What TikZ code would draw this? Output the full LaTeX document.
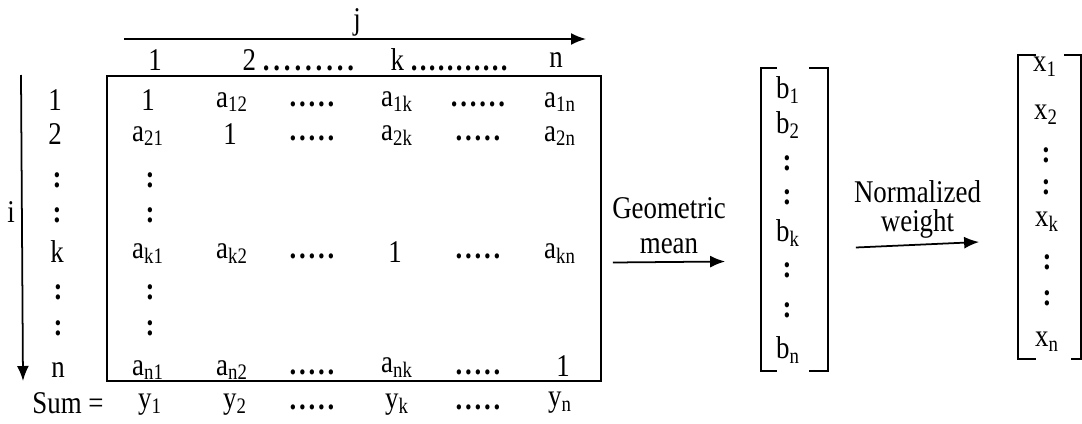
\documentclass[tikz,border=0pt]{standalone}
\usepackage{fontspec}
\setmainfont[FakeStretch=0.85]{Liberation Serif}
\usepackage{tikz}
\usetikzlibrary{
  arrows.meta,
  positioning,
  calc
}
\tikzset{>={Latex[length=3mm, width=2.4mm]}}
\tikzset{font=\fontsize{18}{20}\selectfont}
\tikzset{cell/.style={inner sep=1pt}}
\newcommand{\ent}[2]{#1\textsubscript{#2}}
\newcommand{\vd}{\textbf{:}}
% a run of spaced dots: count, gap
\newcommand{\dts}[2]{\textbf{.\foreach \k in {2,...,#1}{\kern#2.}}}

\begin{document}
\begin{tikzpicture}[x=0.02cm, y=-0.02cm, line width=1pt]
  \useasboundingbox (0,0) rectangle (1082,423); %
  % column heads
  \node[cell] (j) at (357,22) {j}; %
  \coordinate (jl) at (124,39); \coordinate (jr) at (586,39); %
  \draw[->] (jl) -- (jr); %
  \node[cell] (h1) at (155,60) {1}; %
  \node[cell, anchor=west] (h2) at (240,60) {2 \dts{9}{2.2pt}}; %
  \node[cell, anchor=west] (hk) at (388,60) {k \dts{11}{1.3pt}}; %
  \node[cell] (hn) at (556,60) {n}; %
  % row heads and i
  \node[cell] (i) at (11,212) {i}; %
  \coordinate (it) at (21,75); \coordinate (ib) at (23,381); %
  \draw[->] (it) -- (ib); %
  \node[cell] (r1) at (55,100) {1}; %
  \node[cell] (r2) at (55,134) {2}; %
  \node[cell] (r3) at (57,180) {\vd}; %
  \node[cell] (r4) at (57,215) {\vd}; %
  \node[cell] (rk) at (57,252) {k}; %
  \node[cell] (r6) at (58,292) {\vd}; %
  \node[cell] (r7) at (58,328) {\vd}; %
  \node[cell] (rn) at (58,370) {n}; %
  \node[cell] (sum) at (68,403) {Sum =}; %
  % matrix
  \node[draw, minimum width=9.88cm, minimum height=6.1cm] (mat) at (354,228.5) {}; %
  \node[cell] (a11) at (148,100) {1}; %
  \node[cell] (a12) at (232,102) {\ent{a}{12}}; %
  \node[cell] (d11) at (312,104) {\dts{5}{1.6pt}}; %
  \node[cell] (a1k) at (397,102) {\ent{a}{1k}}; %
  \node[cell] (d12) at (478,104) {\dts{6}{1.6pt}}; %
  \node[cell] (a1n) at (560,102) {\ent{a}{1n}}; %
  \node[cell] (a21) at (148,136) {\ent{a}{21}}; %
  \node[cell] (a22) at (230,134) {1}; %
  \node[cell] (d21) at (312,138) {\dts{5}{1.6pt}}; %
  \node[cell] (a2k) at (397,136) {\ent{a}{2k}}; %
  \node[cell] (d22) at (478,138) {\dts{5}{1.6pt}}; %
  \node[cell] (a2n) at (560,136) {\ent{a}{2n}}; %
  \node[cell] (v31) at (150,180) {\vd}; %
  \node[cell] (v41) at (150,215) {\vd}; %
  \node[cell] (ak1) at (148,254) {\ent{a}{k1}}; %
  \node[cell] (ak2) at (232,254) {\ent{a}{k2}}; %
  \node[cell] (dk1) at (312,256) {\dts{5}{1.6pt}}; %
  \node[cell] (akk) at (395,252) {1}; %
  \node[cell] (dk2) at (478,256) {\dts{5}{1.6pt}}; %
  \node[cell] (akn) at (560,254) {\ent{a}{kn}}; %
  \node[cell] (v61) at (150,292) {\vd}; %
  \node[cell] (v71) at (150,328) {\vd}; %
  \node[cell] (an1) at (148,370) {\ent{a}{n1}}; %
  \node[cell] (an2) at (232,370) {\ent{a}{n2}}; %
  \node[cell] (dn1) at (312,372) {\dts{5}{1.6pt}}; %
  \node[cell] (ank) at (397,368) {\ent{a}{nk}}; %
  \node[cell] (dn2) at (478,372) {\dts{5}{1.6pt}}; %
  \node[cell] (ann) at (563,366) {1}; %
  % column sums
  \node[cell] (y1) at (150,405) {\ent{y}{1}}; %
  \node[cell] (y2) at (235,405) {\ent{y}{2}}; %
  \node[cell] (ds1) at (312,407) {\dts{5}{1.6pt}}; %
  \node[cell] (yk) at (397,405) {\ent{y}{k}}; %
  \node[cell] (ds2) at (478,407) {\dts{5}{1.6pt}}; %
  \node[cell] (yn) at (560,403) {\ent{y}{n}}; %
  % geometric mean vector
  \node[minimum width=1.3cm, minimum height=6.02cm, inner sep=0pt] (bvec) at (794.5,219.5) {}; %
  \draw ($(bvec.north west)+(16,0)$) -- (bvec.north west) -- (bvec.south west) -- ++(16,0); %
  \draw ($(bvec.north east)+(-19,0)$) -- (bvec.north east) -- (bvec.south east) -- ++(-19,0); %
  \node[cell] (b1) at (788,90) {\ent{b}{1}}; %
  \node[cell] (b2) at (788,125) {\ent{b}{2}}; %
  \node[cell] (b3) at (787,163) {\vd}; %
  \node[cell] (b4) at (787,197) {\vd}; %
  \node[cell] (bk) at (788,233) {\ent{b}{k}}; %
  \node[cell] (b6) at (787,270) {\vd}; %
  \node[cell] (b7) at (787,310) {\vd}; %
  \node[cell] (bn) at (788,350) {\ent{b}{n}}; %
  % normalized weight vector
  \node[minimum width=1.22cm, minimum height=6.04cm, inner sep=0pt] (xvec) at (1049.5,207) {}; %
  \draw ($(xvec.north west)+(18,0)$) -- (xvec.north west) -- (xvec.south west) -- ++(18,0); %
  \draw ($(xvec.north east)+(-17,0)$) -- (xvec.north east) -- (xvec.south east) -- ++(-10,0); %
  \node[cell] (x1) at (1045,67) {\ent{x}{1}}; %
  \node[cell] (x2) at (1046,115) {\ent{x}{2}}; %
  \node[cell] (x3) at (1046,155) {\vd}; %
  \node[cell] (x4) at (1046,187) {\vd}; %
  \node[cell] (xk) at (1047,222) {\ent{x}{k}}; %
  \node[cell] (x6) at (1047,262) {\vd}; %
  \node[cell] (x7) at (1047,298) {\vd}; %
  \node[cell] (xn) at (1047,342) {\ent{x}{n}}; %
  % steps
  \draw[->] ([shift={(11,34)}]mat.east) -- node[above, align=center, yshift=1pt]{Geometric\\mean} ([shift={(-36,42)}]bvec.west); %
  \draw[->] ([shift={(28,28)}]bvec.east) -- node[above, align=center, font=\fontsize{18}{16.5}\selectfont]{Normalized\\weight} ([shift={(-39,35)}]xvec.west); %
\end{tikzpicture}
\end{document}
